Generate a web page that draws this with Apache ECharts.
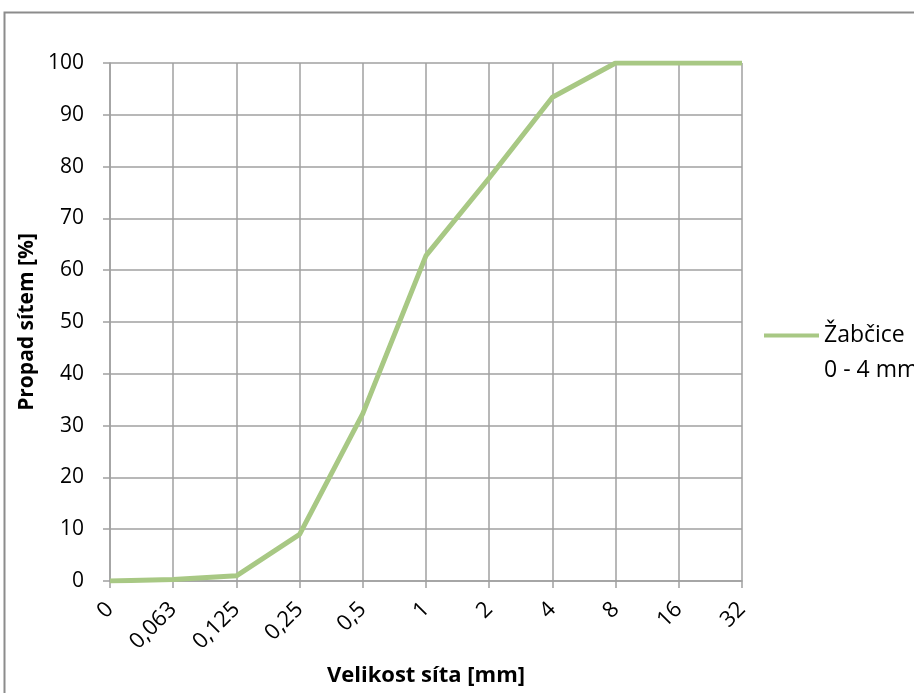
<!DOCTYPE html>
<html><head><meta charset="utf-8">
<script src="https://cdn.jsdelivr.net/npm/echarts@6/dist/echarts.min.js"></script>
<style>html,body{margin:0;padding:0;background:#fff;overflow:hidden}#c{width:914px;height:693px}</style>
</head><body><div id="c"></div>
<script>
const categories = ['0','0,063','0,125','0,25','0,5','1','2','4','8','16','32'];
const values = [0, 0.3, 1, 9, 32.3, 62.8, 77.8, 93.4, 100, 100, 100];
const seriesName = 'Žabčice 0 - 4 mm';
const xName = 'Velikost síta [mm]';
const yName = 'Propad sítem [%]';

const FONT = 'Open Sans';
const LINE = '#A8C884';
const chart = echarts.init(document.getElementById('c'));
chart.setOption({
  animation: false,
  backgroundColor: '#fff',
  textStyle: {fontFamily: FONT},
  graphic: [{type:'rect', shape:{x:4.5, y:12.5, width:1000, height:1000}, style:{fill:'none', stroke:'#8c8c8c', lineWidth:2}, z:-1}],
  grid: {left:110, width:632, top:63, height:518, containLabel:false, outerBoundsMode:'none'},
  legend: {
    show: true, left: 759, top: 278, orient:'vertical',
    itemWidth: 55, itemHeight: 70,
    icon: 'path://M0,33 L55,33 L55,37 L0,37 Z',
    formatter: function(n){ return ' \nŽabčice\n0 - 4 mm'; },
    textStyle: {fontFamily: FONT, fontSize: 23, color:'#000', lineHeight: 35},
    data: [{name: seriesName, itemStyle:{color:LINE}}]
  },
  xAxis: {
    type:'category', data: categories, boundaryGap:false,
    name: xName, nameLocation:'middle', nameGap: 84,
    nameTextStyle:{fontFamily:FONT, fontSize:22, fontWeight:'bold', color:'#000'},
    axisLine:{lineStyle:{color:'#a0a0a0', width:1.5}},
    axisTick:{show:true, length:7, lineStyle:{color:'#a0a0a0', width:1.5}},
    axisLabel:{rotate:45, fontFamily:FONT, fontSize:22, color:'#000', margin:25, interval:0},
    splitLine:{show:true, lineStyle:{color:'#a0a0a0', width:1.5}}
  },
  yAxis: {
    type:'value', min:0, max:100, interval:10,
    name: yName, nameLocation:'middle', nameGap: 64, nameRotate: 90,
    nameTextStyle:{fontFamily:FONT, fontSize:21, fontWeight:'bold', color:'#000'},
    axisLine:{show:true, lineStyle:{color:'#a0a0a0', width:1.5}},
    axisTick:{show:true, length:7, lineStyle:{color:'#a0a0a0', width:1.5}},
    axisLabel:{fontFamily:FONT, fontSize:21, color:'#000', margin:26},
    splitLine:{show:true, lineStyle:{color:'#a0a0a0', width:1.5}}
  },
  series: [{
    name: seriesName, type:'line', data: values, showSymbol:false, symbol:'none',
    lineStyle:{color:LINE, width:5}, itemStyle:{color:LINE}
  }]
});
</script></body></html>
